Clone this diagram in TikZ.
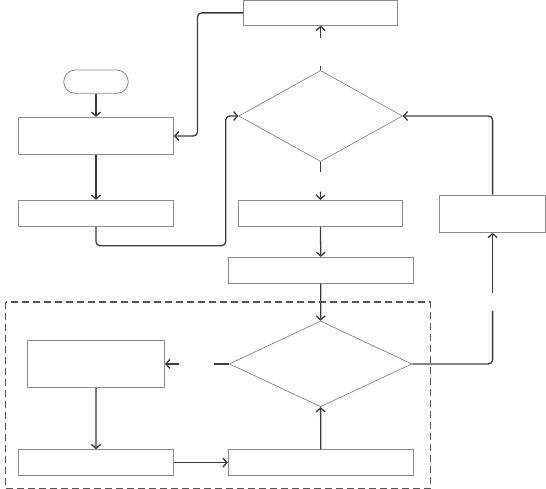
\documentclass[tikz,border=0pt]{standalone}
\usetikzlibrary{shapes.geometric,arrows.meta}
\definecolor{boxgray}{HTML}{8C8C8C}
\definecolor{diagray}{HTML}{7A7A7A}
\definecolor{conncol}{HTML}{3C3C3C}
\definecolor{dashcol}{HTML}{555555}
\begin{document}
\begin{tikzpicture}[x=1pt,y=-1pt,
  box/.style={draw=boxgray, line width=0.8pt, rectangle, inner sep=0pt, fill=white},
  term/.style={draw=boxgray, line width=0.8pt, rectangle, rounded corners=11.5pt, inner sep=0pt, fill=white},
  dia/.style={draw=diagray, line width=0.6pt, diamond, inner sep=0pt, fill=white},
  conn/.style={draw=conncol, line width=1.3pt, rounded corners=4pt},
  tip/.style={-{Straight Barb[length=4pt,width=9pt]}}
]
\useasboundingbox (0,0) rectangle (546,489);
% nodes
\node[box, minimum width=154.3pt, minimum height=24.8pt] (top) at (320.6,12.9) {};
\node[term, minimum width=64.5pt, minimum height=23.3pt] (start) at (96,81.7) {};
\node[box, minimum width=155pt, minimum height=37pt] (A) at (96,135.8) {};
\node[box, minimum width=155pt, minimum height=26.4pt] (B) at (96,213.5) {};
\node[dia, minimum width=163.7pt, minimum height=91pt] (d1) at (320.6,116) {};
\node[box, minimum width=164.4pt, minimum height=26.4pt] (C) at (320.4,213.5) {};
\node[box, minimum width=105.5pt, minimum height=37.3pt] (R) at (492.6,213.7) {};
\node[box, minimum width=185.3pt, minimum height=26pt] (D) at (320.8,270.3) {};
\node[dia, minimum width=182.8pt, minimum height=85.7pt] (d2) at (320.6,363.9) {};
\node[box, minimum width=137.2pt, minimum height=47.7pt] (E) at (96.1,363.9) {};
\node[box, minimum width=155pt, minimum height=25.6pt] (F) at (96,462.5) {};
\node[box, minimum width=185.3pt, minimum height=25.6pt] (G) at (320.8,462.5) {};
% gap coordinates
\coordinate (g1a) at (320.6,65.7);
\coordinate (g1b) at (320.6,38.3);
\coordinate (g2a) at (320.6,172.3);
\coordinate (g2b) at (320.6,191.7);
\coordinate (g3a) at (214.2,363.9);
\coordinate (g3b) at (179.4,363.9);
\coordinate (g4a) at (492.6,311);
\coordinate (g4b) at (492.6,293.3);
% connectors
\draw[conn,tip] (start.south) -- (A.north);
\draw[conn,tip] (A.south) -- (B.north);
\draw[conn,tip] (top.west) -- (197.5,12.9) -- (197.5,136) -- (A.east |- 0,136);
\draw[conn,tip] (B.south) -- (96,245.7) -- (225.7,245.7) -- (225.7,116) -- (d1.west);
\draw[conn] (d1.north) -- (g1a);
\draw[conn,tip] (g1b) -- (top.south);
\draw[conn] (d1.south) -- (g2a);
\draw[conn,tip] (g2b) -- (C.north);
\draw[conn,tip] (C.south) -- (D.north);
\draw[conn,tip] (D.south) -- (d2.north);
\draw[conn,tip] (R.north) -- (492.6,116) -- (d1.east);
\draw[conn] (d2.east) -- (492.6,363.9) -- (g4a);
\draw[conn,tip] (g4b) -- (R.south);
\draw[conn] (d2.west) -- (g3a);
\draw[conn,tip] (g3b) -- (E.east);
\draw[conn,tip] (E.south) -- (F.north);
\draw[conn,tip] (F.east) -- (G.west);
\draw[conn,tip] (G.north) -- (d2.south);
% dashed group
\draw[draw=dashcol, line width=1.3pt, dash pattern=on 7pt off 4pt] (5.6,302) rectangle (430.5,488.3);
\end{tikzpicture}
\end{document}
